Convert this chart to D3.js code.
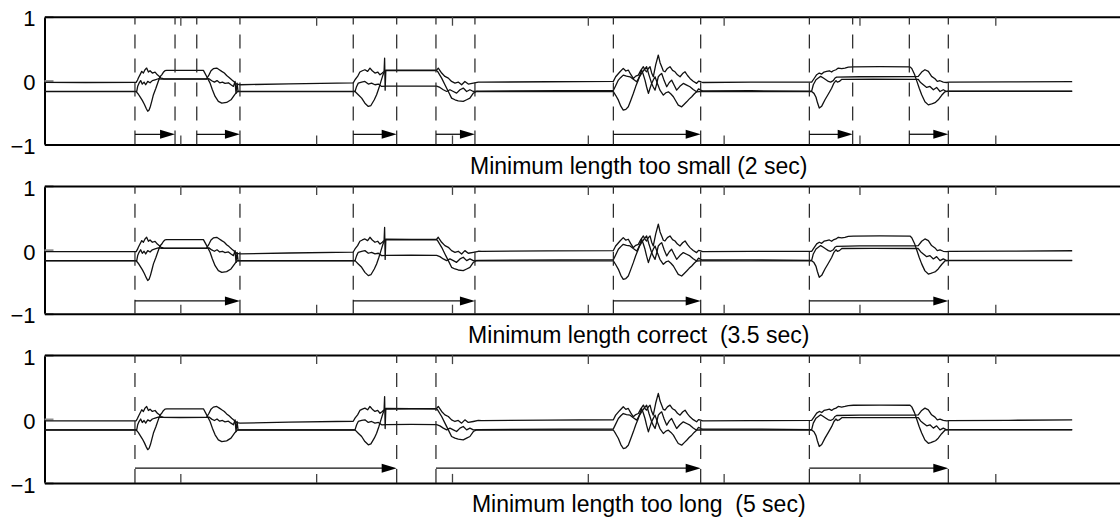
<!DOCTYPE html>
<html>
<head>
<meta charset="utf-8">
<script src="https://cdn.jsdelivr.net/npm/d3@7"></script>
<style>
    body { margin: 0; background: #fff; }
    .chart text { font-family: "Liberation Sans", Arial, Helvetica, sans-serif; fill: #000; }
</style>
</head>
<body>
<div class="chart"></div>
<script>
// three sensor traces, [sample, value]; the same signal is shown in every panel
const traceA = [
    [0, -0.028], [30, -0.03], [67.5, -0.028],
    [68.5, 0.01], [69.1, 0.04], [70.3, 0.09], [71.6, 0.144], [72.8, 0.118], [74, 0.17], [75.2, 0.196],
    [76.5, 0.133], [77.7, 0.154], [79.4, 0.118], [81.4, 0.133], [83.1, 0.09], [84.6, 0.065], [85.8, 0.039],
    [87.5, 0.029], [100, 0.027], [119.4, 0.029],
    [121.1, 0.09], [122.6, 0.154], [124.3, 0.186], [126.8, 0.196], [128.7, 0.17], [130.5, 0.144],
    [132.4, 0.118], [134.1, 0.08], [135.9, 0.05], [137.8, 0.013], [139.8, -0.023], [141.5, -0.055], [144, -0.065],
    [180, -0.05], [227.3, -0.035],
    [228.6, 0.013], [230.5, 0.065], [232.2, 0.134], [234, 0.154], [235.9, 0.17], [237.9, 0.144], [239.6, 0.196],
    [241.3, 0.154], [243.3, 0.118], [245.3, 0.134], [247, 0.09], [248.7, 0.118], [250, 0.144], [250.4, 0.35],
    [250.8, -0.15], [251.3, 0.165], [270, 0.162], [288.7, 0.165],
    [289.9, 0.196], [292.4, 0.118], [294.8, 0.065], [297.3, 0.039], [299.7, -0.013], [302.2, -0.039],
    [304.6, -0.023], [307.1, -0.065], [309.5, -0.013], [312, -0.054], [315.7, -0.039], [319.4, -0.023], [322, -0.025],
    [370, -0.018], [418.8, -0.012],
    [420.5, 0.06], [423.7, 0.138], [426.1, 0.191], [428, 0.15], [429.8, 0.165], [431.5, 0.10], [433.5, 0.034],
    [435.3, 0.07], [437.2, 0.086], [439, 0.16], [440.9, 0.217], [442.2, 0.16], [443.3, 0.138], [444.6, 0.19],
    [445.8, 0.217], [447, 0.12], [448.2, 0.06], [450, 0.25], [451.9, 0.40], [453.2, 0.28], [454.4, 0.217],
    [455.6, 0.15], [456.8, 0.138], [458.6, 0.19], [460.5, 0.217], [462.4, 0.16], [464.2, 0.138], [466, 0.09],
    [467.9, 0.06], [469.8, 0.11], [471.6, 0.138], [473.4, 0.08], [475.2, 0.034], [477.6, -0.01], [480.1, -0.044],
    [481.5, -0.01], [483.1, -0.018], [484.5, -0.03],
    [520, -0.025], [564.8, -0.023],
    [566.5, 0.029], [568.5, 0.092], [570.4, 0.118], [572.2, 0.102], [573.9, 0.134], [575.8, 0.144], [577.8, 0.154],
    [579.5, 0.134], [580.7, 0.154], [582.7, 0.17], [584.4, 0.196], [586.9, 0.186], [589.3, 0.196], [591.8, 0.21],
    [595.5, 0.215], [615, 0.218], [637.2, 0.215],
    [638.5, 0.19], [640.5, 0.10], [642.1, 0.0], [644, -0.12], [645.8, -0.22], [648.2, -0.33], [650.7, -0.38],
    [652.5, -0.37], [654.3, -0.355], [656, -0.34], [658, -0.30], [660.5, -0.23], [662.9, -0.175], [665, -0.165],
    [710, -0.165], [756.6, -0.165]
];

const traceB = [
    [0, -0.17], [67.5, -0.17],
    [67.9, -0.17], [68.6, -0.09], [69.6, -0.04], [70.8, 0.0], [72, -0.055], [73.3, -0.023], [74.5, -0.065],
    [76, -0.013], [77.7, -0.034], [79.4, 0.0], [81.4, 0.013], [83.8, 0.029], [86.3, 0.024], [100, 0.022], [119.4, 0.024],
    [121.1, 0.03], [123.1, -0.002], [125.1, -0.023], [127, 0.0], [129, -0.034], [131, -0.023], [132.9, -0.044],
    [135.4, -0.034], [137.3, -0.065], [139.1, -0.091], [140.3, -0.013], [141, -0.196], [141.8, -0.039],
    [142.5, -0.17], [144, -0.17],
    [227.3, -0.17],
    [228.6, -0.17], [229.8, -0.091], [231, -0.039], [233.5, -0.023], [235.9, -0.013], [238.4, -0.054],
    [240.8, -0.039], [243.3, -0.065], [245.8, -0.054], [248.2, -0.091], [251.9, -0.088], [270, -0.085], [288.7, -0.088],
    [291.1, -0.107], [293.6, -0.143], [296.1, -0.17], [298.5, -0.143], [301, -0.17], [303.4, -0.196],
    [305.9, -0.143], [308.3, -0.117], [310.8, -0.17], [313.2, -0.143], [315.7, -0.17], [319.4, -0.165],
    [418.8, -0.155],
    [420.5, -0.08], [422.5, 0.008], [424.3, 0.05], [426.1, 0.086], [428.5, 0.07], [431.1, 0.06], [433.5, 0.02],
    [436, -0.018], [437.8, 0.05], [439.6, 0.112], [441.5, 0.17], [443.3, 0.217], [445, 0.09], [447, -0.044],
    [448.2, -0.10], [449.5, -0.149], [450.7, -0.05], [451.9, 0.06], [453.1, 0.09], [454.4, 0.112], [456.2, 0.0],
    [458.1, -0.096], [460, -0.03], [461.7, 0.008], [463.5, -0.07], [465.4, -0.149], [467.8, -0.09], [470.3, -0.044],
    [472.8, -0.07], [475.2, -0.096], [477.6, -0.14], [480.1, -0.175], [481.5, -0.13], [483.1, -0.149], [484.5, -0.16],
    [520, -0.158], [564.8, -0.165],
    [566, -0.065], [568, 0.013], [569.7, 0.04], [571.4, 0.066], [573.4, 0.04], [575.3, 0.013], [577.1, -0.013],
    [578.8, -0.023], [580.7, 0.0], [582, 0.04], [583.2, 0.055], [600, 0.06], [640.9, 0.062],
    [643.3, 0.066], [645.8, 0.134], [648.2, 0.17], [650.7, 0.144], [653.1, 0.066], [655.6, 0.029], [657.3, -0.013],
    [659.3, -0.002], [661.7, -0.023], [664.2, -0.03], [666, -0.025],
    [710, -0.02], [756.6, -0.015]
];

const traceC = [
    [0, -0.172], [67.5, -0.172],
    [69, -0.21], [70.5, -0.26], [72, -0.31], [73.5, -0.37], [75, -0.44], [76, -0.48], [77, -0.46], [78, -0.40],
    [79, -0.32], [80.2, -0.22], [82, -0.12], [83.8, -0.01], [85, 0.06], [86.3, 0.09], [87.5, 0.13], [88.7, 0.155],
    [90, 0.16], [117, 0.16],
    [119.4, 0.065], [121.9, -0.039], [123.6, -0.143], [125.6, -0.248], [128, -0.326], [130.5, -0.353],
    [134.1, -0.342], [137.3, -0.30], [140.3, -0.211], [142.2, -0.17], [144, -0.172],
    [227.3, -0.172],
    [228.6, -0.17], [231, -0.222], [233.5, -0.274], [235.9, -0.353], [238.4, -0.404], [240.3, -0.39], [242.8, -0.30],
    [244.5, -0.222], [246.2, -0.117], [247.7, -0.013], [249.2, 0.09], [250.6, 0.155], [270, 0.157], [288.7, 0.155],
    [289.4, 0.144], [292.4, 0.039], [294.8, -0.065], [297.3, -0.17], [299.7, -0.274], [302.2, -0.30],
    [304.6, -0.316], [308.3, -0.326], [310.8, -0.30], [313.2, -0.274], [315.7, -0.196], [318.1, -0.17], [320, -0.172],
    [418.8, -0.172],
    [420.5, -0.23], [422.5, -0.306], [424.3, -0.40], [426.1, -0.462], [428, -0.45], [429.8, -0.41], [431.6, -0.31],
    [433.5, -0.201], [435.3, -0.09], [437.2, 0.008], [438.4, 0.09], [439.6, 0.165], [440.9, 0.09], [442.1, 0.008],
    [443.3, -0.10], [444.6, -0.201], [445.8, -0.12], [447, -0.044], [448.2, 0.01], [449.5, 0.06], [451.3, -0.05],
    [453.1, -0.149], [455.6, -0.227], [457.5, -0.19], [459.3, -0.175], [461.2, -0.21], [463, -0.253],
    [464.8, -0.32], [466.6, -0.384], [469.1, -0.41], [471, -0.37], [472.8, -0.332], [474.6, -0.29], [476.5, -0.253],
    [478.3, -0.21], [480.1, -0.175], [482, -0.172],
    [520, -0.172], [564.8, -0.172],
    [566.5, -0.20], [568, -0.26], [569, -0.34], [570.4, -0.43], [572.2, -0.40], [574.6, -0.30], [577.1, -0.21],
    [579.5, -0.12], [581.2, -0.039], [582.7, 0.0], [583.7, -0.023], [585.2, -0.013], [587, 0.02], [610, 0.021], [643.3, 0.02],
    [645, -0.03], [647, -0.065], [649.5, -0.107], [651.9, -0.091], [654.4, -0.143], [656.8, -0.107], [659.3, -0.17],
    [661.7, -0.143], [664.2, -0.17], [666, -0.168],
    [710, -0.168], [756.6, -0.168]
];

// detected segments [start, end] in samples for each minimum length setting
const segTooSmall = [[66.6, 96.1], [112.1, 143.9], [227.3, 259.3], [288.2, 316.9], [418.8, 483.1], [563.1, 595.0], [636.7, 665.4]];
const segCorrect = [[66.6, 143.9], [227.3, 316.9], [418.8, 483.1], [563.1, 665.4]];
const segTooLong = [[66.6, 259.3], [288.2, 483.1], [563.1, 665.4]];

const captions = [
    "Minimum length too small (2 sec)",
    "Minimum length correct  (3.5 sec)",
    "Minimum length too long  (5 sec)"
];
const arrowLevels = [-0.84, -0.80, -0.77];
const yTicks = [-1, 0, 1];
const xTicks = [100, 200, 300, 400, 500, 600, 700, 800];
const xDomain = [0, 875];

class SegmentPanel {
    constructor(svg, index, segments, caption, arrowLevel) {
        this.svg = svg;
        this.index = index;
        this.segments = segments;
        this.caption = caption;
        this.arrowLevel = arrowLevel;
        this.top = 16.7 + index * 169.2;
        this.height = 127.8;
        this.initVis();
        this.renderVis();
    }

    initVis() {
        this.x = d3.scaleLinear()
            .domain(xDomain)
            .range([44.5, 1233]);

        this.y = d3.scaleLinear()
            .domain([-1, 1])
            .range([this.top + this.height, this.top]);

        this.g = this.svg.append("g")
            .attr("class", "panel");
    }

    renderVis() {
        const x = this.x;
        const y = this.y;

        // y axis
        const yAxis = this.g.append("g")
            .attr("transform", `translate(${x(xDomain[0])},0)`)
            .call(d3.axisLeft(y)
                .tickValues(yTicks)
                .tickFormat(d3.format("d"))
                .tickSizeInner(-9)
                .tickSizeOuter(0)
                .tickPadding(9));
        yAxis.select(".domain").attr("stroke", "#000").attr("stroke-width", 2);
        yAxis.selectAll(".tick line").attr("stroke", "#8c8c8c").attr("stroke-width", 2);
        yAxis.selectAll(".tick text")
            .attr("dy", "0.42em")
            .style("font-size", "22px")
            .attr("font-family", null);

        // top and bottom frame with inward ticks
        const xTop = this.g.append("g")
            .attr("transform", `translate(0,${y(1)})`)
            .call(d3.axisTop(x).tickValues(xTicks).tickSizeInner(-9).tickSizeOuter(0).tickFormat(""));
        const xBottom = this.g.append("g")
            .attr("transform", `translate(0,${y(-1)})`)
            .call(d3.axisBottom(x).tickValues(xTicks).tickSizeInner(-9).tickSizeOuter(0).tickFormat(""));
        [xTop, xBottom].forEach(ax => {
            ax.select(".domain").attr("stroke", "#000").attr("stroke-width", 2);
            ax.selectAll(".tick line").attr("stroke", "#444").attr("stroke-width", 1.3);
        });

        // signal traces
        const line = d3.line()
            .x(d => x(d[0]))
            .y(d => y(d[1]));

        this.g.selectAll(".trace")
            .data([traceA, traceB, traceC])
            .join("path")
            .attr("class", "trace")
            .attr("d", line)
            .attr("fill", "none")
            .attr("stroke", "#111")
            .attr("stroke-width", 1.3)
            .attr("stroke-linejoin", "round");

        // dashed segment boundaries
        const bounds = Array.from(new Set(this.segments.flat()));
        this.g.selectAll(".bound")
            .data(bounds)
            .join("line")
            .attr("class", "bound")
            .attr("x1", d => x(d))
            .attr("x2", d => x(d))
            .attr("y1", y(-1))
            .attr("y2", y(1))
            .attr("stroke", "#222")
            .attr("stroke-width", 1.2)
            .attr("stroke-dasharray", "14,10");

        // arrows
        const ay = y(this.arrowLevel);
        const arrows = this.g.selectAll(".arrow")
            .data(this.segments)
            .join("g")
            .attr("class", "arrow");

        arrows.append("line")
            .attr("x1", d => x(d[0]))
            .attr("x2", d => x(d[1]) - 8)
            .attr("y1", ay)
            .attr("y2", ay)
            .attr("stroke", "#111")
            .attr("stroke-width", 1.3);

        arrows.append("path")
            .attr("d", d => `M${x(d[1])},${ay}L${x(d[1]) - 15},${ay - 4.5}L${x(d[1]) - 15},${ay + 4.5}Z`)
            .attr("fill", "#000");

        // caption under the panel
        this.g.append("text")
            .attr("x", (x(xDomain[0]) + x(xDomain[1])) / 2)
            .attr("y", y(-1) + 29)
            .attr("text-anchor", "middle")
            .attr("xml:space", "preserve")
            .style("white-space", "pre")
            .style("font-size", "23px")
            .text(this.caption);
    }
}

const svg = d3.select(".chart")
    .append("svg")
    .attr("width", 1120)
    .attr("height", 518);

[segTooSmall, segCorrect, segTooLong].forEach((segs, i) => {
    new SegmentPanel(svg, i, segs, captions[i], arrowLevels[i]);
});
</script>
</body>
</html>
